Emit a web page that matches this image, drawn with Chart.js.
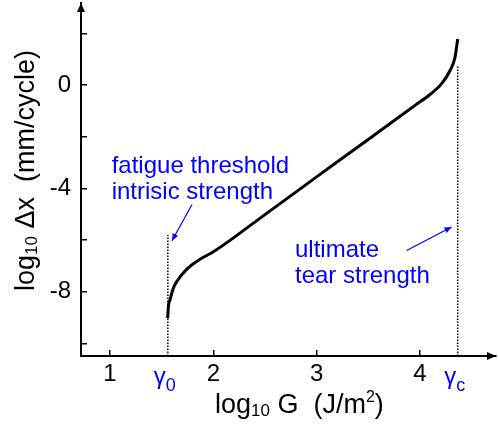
<!DOCTYPE html>
<html>
<head>
<meta charset="utf-8">
<script src="https://cdn.jsdelivr.net/npm/chart.js@4.4.1/dist/chart.umd.min.js"></script>
<style>
  body { margin: 0; background: #fff; }
  #wrap { width: 498px; height: 427px; }
</style>
</head>
<body>
<div id="wrap"><canvas id="chart"></canvas></div>
<script>
// crack growth curve
const logG  = [1.558, 1.565, 1.581, 1.613, 1.646, 1.742, 1.871, 1.997, 2.5, 3.0, 3.5, 3.953, 4.098, 4.211, 4.291, 4.340, 4.366];
const logDx = [-9.02, -8.57, -8.31, -7.86, -7.60, -7.13, -6.74, -6.46, -5.01, -3.55, -2.10, -0.78, -0.36, 0.06, 0.56, 1.08, 1.79];

const xTicks = [1, 2, 3, 4];
const yTicks = [-10, -8, -6, -4, -2, 0, 2];
const yLabelled = [0, -4, -8];

const gamma0 = 1.56;
const gammaC = 4.366;
const gamma0Top = -5.8;
const gammaCTop = 0.75;

const xRange = [0.719, 4.737];
const yRange = [-10.485, 3.184];

const FONT = '"Liberation Sans", Arial, Helvetica, sans-serif';
const BLUE = '#0000ff';

const notes = [
  { lines: ['fatigue threshold', 'intrisic strength'], x: 1.016, y: -3.39, from: [1.794, -4.62], to: [1.600, -6.02] },
  { lines: ['ultimate', 'tear strength'], x: 2.791, y: -6.65, from: [3.872, -6.40], to: [4.307, -5.49] }
];

Chart.defaults.font.family = FONT;
Chart.defaults.color = '#000';

function drawRich(ctx, parts, x, y) {
  for (const [text, size, dy] of parts) {
    ctx.font = size + 'px ' + FONT;
    ctx.fillText(text, x, y + dy);
    x += ctx.measureText(text).width;
  }
}

function arrowHead(ctx, x1, y1, x2, y2, len, half) {
  const a = Math.atan2(y2 - y1, x2 - x1);
  ctx.beginPath();
  ctx.moveTo(x2, y2);
  ctx.lineTo(x2 - len * Math.cos(a) + half * Math.sin(a), y2 - len * Math.sin(a) - half * Math.cos(a));
  ctx.lineTo(x2 - len * Math.cos(a) - half * Math.sin(a), y2 - len * Math.sin(a) + half * Math.cos(a));
  ctx.closePath();
  ctx.fill();
}

const decor = {
  id: 'decor',
  afterDraw(chart) {
    const { ctx, chartArea: a, scales: { x, y } } = chart;
    ctx.save();

    // axis arrows
    ctx.fillStyle = '#000';
    arrowHead(ctx, a.left, a.bottom, a.left, a.top, 9, 4);
    arrowHead(ctx, a.left, a.bottom, a.right, a.bottom, 9, 4);

    // axis titles
    ctx.textAlign = 'left';
    ctx.textBaseline = 'alphabetic';
    drawRich(ctx, [['log', 27, 0], ['10', 17, 3], [' G  (J/m', 27, 0], ['2', 16, -11], [')', 27, 0]], 215, 413);
    ctx.save();
    ctx.translate(34, 291);
    ctx.rotate(-Math.PI / 2);
    drawRich(ctx, [['log', 27, 0], ['10', 17, 3], [' \u0394x  (mm/cycle)', 27, 0]], 0, 0);
    ctx.restore();

    // gamma labels under the axis
    ctx.fillStyle = BLUE;
    [[gamma0, '0'], [gammaC, 'c']].forEach(([g, sub]) => {
      ctx.font = '24px ' + FONT;
      const w1 = ctx.measureText('\u03b3').width;
      ctx.font = '18px ' + FONT;
      const w2 = ctx.measureText(sub).width;
      const left = x.getPixelForValue(g) - 3 - (w1 + w2) / 2;
      drawRich(ctx, [['\u03b3', 24, 0], [sub, 18, 7]], left, 384);
    });

    // annotations
    ctx.strokeStyle = BLUE;
    ctx.lineWidth = 1.2;
    notes.forEach(n => {
      ctx.font = '24px ' + FONT;
      const tx = x.getPixelForValue(n.x);
      const ty = y.getPixelForValue(n.y);
      n.lines.forEach((t, i) => ctx.fillText(t, tx, ty + i * 26.5));
      const x1 = x.getPixelForValue(n.from[0]), y1 = y.getPixelForValue(n.from[1]);
      const x2 = x.getPixelForValue(n.to[0]), y2 = y.getPixelForValue(n.to[1]);
      ctx.beginPath();
      ctx.moveTo(x1, y1);
      ctx.lineTo(x2, y2);
      ctx.stroke();
      arrowHead(ctx, x1, y1, x2, y2, 7, 3);
    });

    ctx.restore();
  }
};

const noPad = s => { s.paddingTop = 0; s.paddingBottom = 0; s.paddingLeft = 0; s.paddingRight = 0; };

new Chart(document.getElementById('chart'), {
  type: 'scatter',
  data: {
    datasets: [
      {
        data: logG.map((g, i) => ({ x: g, y: logDx[i] })),
        showLine: true,
        borderColor: '#000',
        borderWidth: 3,
        pointRadius: 0,
        cubicInterpolationMode: 'monotone'
      },
      {
        data: [{ x: gamma0, y: yRange[0] }, { x: gamma0, y: gamma0Top }],
        showLine: true,
        borderColor: '#000',
        borderWidth: 1.5,
        borderDash: [1.5, 1.5],
        pointRadius: 0
      },
      {
        data: [{ x: gammaC, y: yRange[0] }, { x: gammaC, y: gammaCTop }],
        showLine: true,
        borderColor: '#000',
        borderWidth: 1.5,
        borderDash: [1.5, 1.5],
        pointRadius: 0
      }
    ]
  },
  options: {
    responsive: true,
    maintainAspectRatio: false,
    animation: false,
    layout: { padding: { top: 3, right: 2, left: 0, bottom: 0 } },
    plugins: { legend: { display: false }, tooltip: { enabled: false } },
    scales: {
      x: {
        type: 'linear',
        min: xRange[0],
        max: xRange[1],
        afterBuildTicks: s => { s.ticks = xTicks.map(v => ({ value: v })); },
        afterFit: s => { noPad(s); s.height = 71; },
        border: { display: true, color: '#000', width: 2 },
        grid: { drawOnChartArea: false, drawTicks: true, tickLength: -6, color: '#000', lineWidth: 1.5 },
        ticks: { font: { size: 24 }, padding: 10, maxRotation: 0, autoSkip: false, callback: v => String(v) }
      },
      y: {
        type: 'linear',
        min: yRange[0],
        max: yRange[1],
        afterBuildTicks: s => { s.ticks = yTicks.map(v => ({ value: v })); },
        afterFit: s => { noPad(s); s.width = 81; },
        border: { display: true, color: '#000', width: 2 },
        grid: { drawOnChartArea: false, drawTicks: true, tickLength: -6, color: '#000', lineWidth: 1.5 },
        ticks: { font: { size: 24 }, padding: 16, autoSkip: false, callback: v => yLabelled.includes(v) ? String(v) : '' }
      }
    }
  },
  plugins: [decor]
});
</script>
</body>
</html>
